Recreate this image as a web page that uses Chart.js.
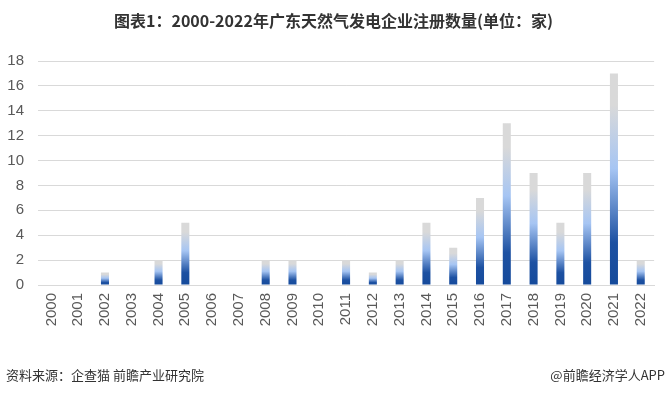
<!DOCTYPE html>
<html><head><meta charset="utf-8">
<script src="https://cdn.jsdelivr.net/npm/chart.js@4/dist/chart.umd.min.js"></script>
<style>
html,body{margin:0;padding:0;background:#fff;}
#wrap{position:relative;width:667px;height:394px;overflow:hidden;}
#title{position:absolute;left:0;top:8px;width:667px;text-align:center;font:bold 16px "Noto Sans CJK SC","Liberation Sans",sans-serif;color:#333;}
#src{position:absolute;left:6px;top:365px;font:13px "Noto Sans CJK SC",sans-serif;color:#333;}
#app{position:absolute;right:2px;top:365px;font:13px "Noto Sans CJK SC",sans-serif;color:#333;}
canvas{position:absolute;left:0;top:0;}
</style></head>
<body><div id="wrap">
<canvas id="c" width="667" height="394"></canvas>
<div id="title">图表1：2000-2022年广东天然气发电企业注册数量(单位：家)</div>
<div id="src">资料来源：企查猫 前瞻产业研究院</div>
<div id="app">@前瞻经济学人APP</div>
</div>
<script>
const years = ["2000","2001","2002","2003","2004","2005","2006","2007","2008","2009","2010","2011","2012","2013","2014","2015","2016","2017","2018","2019","2020","2021","2022"];
const counts = [0,0,1,0,2,5,0,0,2,2,0,2,1,2,5,3,7,13,9,5,9,17,2];
const yTicks = [0,2,4,6,8,10,12,14,16,18];

function barFill(ctx){
  const chart = ctx.chart;
  const ys = chart.scales.y;
  if (!ys || ctx.dataIndex === undefined) return '#5b86c9';
  const v = counts[ctx.dataIndex];
  const y0 = ys.getPixelForValue(0), y1 = ys.getPixelForValue(v);
  if (!isFinite(y0) || !isFinite(y1) || y0 === y1) return '#5b86c9';
  const g = chart.ctx.createLinearGradient(0, y0, 0, y1);
  g.addColorStop(0, '#154a9b');
  g.addColorStop(0.2, '#1d51a2');
  g.addColorStop(0.55, '#a6c5f3');
  g.addColorStop(0.85, '#d9d9d9');
  g.addColorStop(1, '#d9d9d9');
  return g;
}

new Chart(document.getElementById('c'), {
  type: 'bar',
  data: { labels: years, datasets: [{ data: counts, backgroundColor: barFill, barPercentage: 0.3, categoryPercentage: 1.0 }] },
  options: {
    responsive: false, animation: false, devicePixelRatio: 1,
    layout: { padding: { left: 0, right: 12, top: 61, bottom: 0 } },
    plugins: { legend: { display: false }, tooltip: { enabled: false }, title: { display: false } },
    scales: {
      x: {
        grid: { display: false, drawTicks: false },
        border: { color: '#d9d9d9' },
        ticks: { color: '#595959', font: { size: 15, family: 'Liberation Sans' }, minRotation: 90, maxRotation: 90, padding: 8, autoSkip: false },
        afterFit: s => { s.height = 109; }
      },
      y: {
        min: 0, max: 18,
        afterBuildTicks: s => { s.ticks = yTicks.map(v => ({ value: v })); },
        grid: { color: '#d9d9d9', drawTicks: false },
        border: { display: false },
        ticks: { color: '#595959', font: { size: 15, family: 'Liberation Sans' }, padding: 14 },
        afterFit: s => { s.width = 38; }
      }
    }
  }
});
</script>
</body></html>
